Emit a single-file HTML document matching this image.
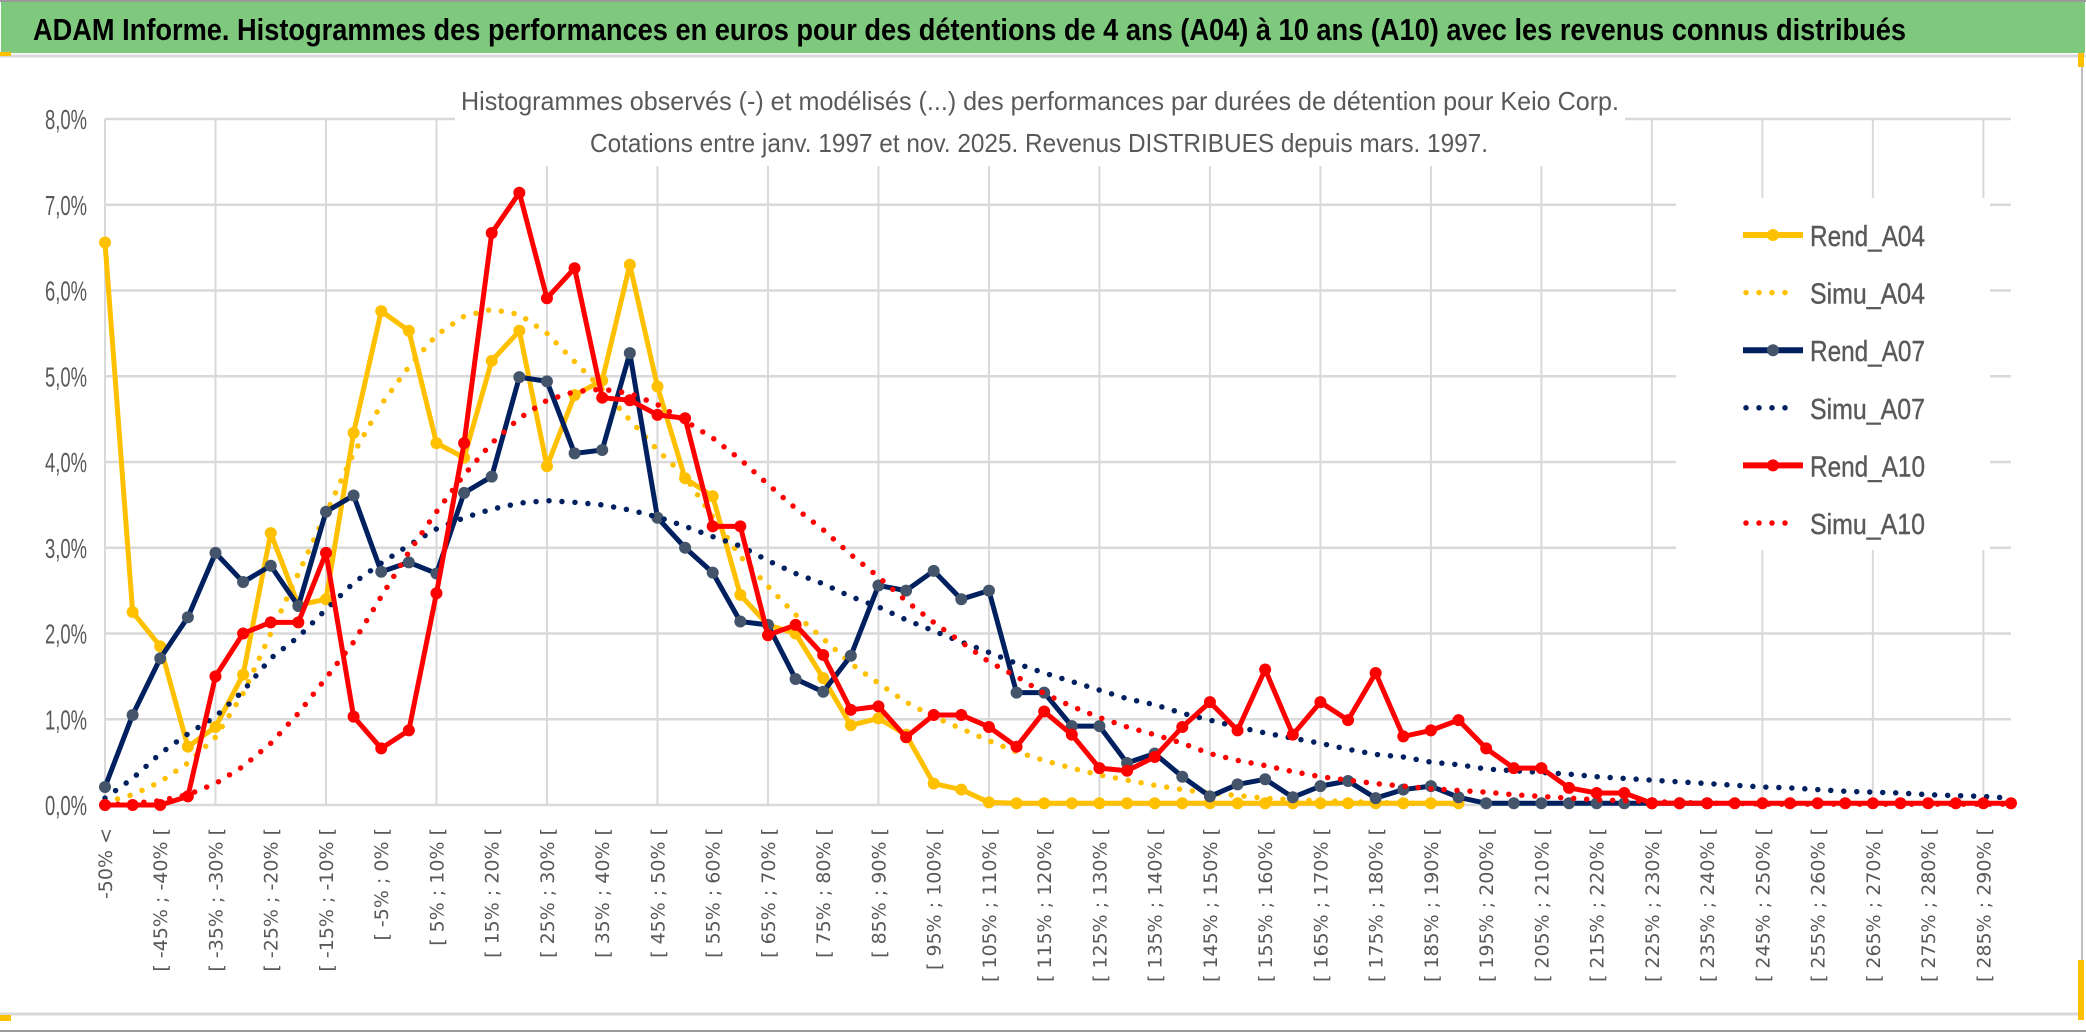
<!DOCTYPE html>
<html><head><meta charset="utf-8"><style>
html,body{margin:0;padding:0;background:#fff;}
svg{display:block;}
</style></head><body>
<svg id="chart" width="2086" height="1033" viewBox="0 0 2086 1033" xmlns="http://www.w3.org/2000/svg">
<rect x="0" y="0" width="2086" height="1033" fill="#ffffff"/>
<rect x="1" y="2" width="2084" height="51" fill="#7fc97f"/>
<line x1="0" y1="1" x2="2086" y2="1" stroke="#9a9a9a" stroke-width="2"/>
<line x1="0" y1="56" x2="2086" y2="56" stroke="#d9d9d9" stroke-width="3"/>
<line x1="2082" y1="56" x2="2082" y2="1020" stroke="#bfbfbf" stroke-width="2"/>
<line x1="0" y1="1014" x2="2080" y2="1014" stroke="#d9d9d9" stroke-width="3"/>
<line x1="0" y1="1031" x2="2086" y2="1031" stroke="#9a9a9a" stroke-width="2"/>
<rect x="0" y="52" width="11" height="4" fill="#ffc000"/>
<rect x="0" y="1015" width="11" height="6" fill="#ffc000"/>
<rect x="2078" y="53" width="6" height="14" fill="#ffc000"/>
<rect x="2078" y="960" width="6" height="60" fill="#ffc000"/>
<text x="33" y="40" font-family="Liberation Sans, sans-serif" font-weight="bold" font-size="31" fill="#000" textLength="1873" lengthAdjust="spacingAndGlyphs">ADAM Informe. Histogrammes des performances en euros pour des détentions de 4 ans (A04) à 10 ans (A10) avec les revenus connus distribués</text>
<g id="grid"></g>
<rect x="455" y="72" width="1170" height="94" fill="#fff"/>
<text x="461" y="110" font-family="Liberation Sans, sans-serif" font-size="26" fill="#595959" textLength="1158" lengthAdjust="spacingAndGlyphs">Histogrammes observés (-) et modélisés (...) des performances par durées de détention pour Keio Corp.</text>
<text x="590" y="152" font-family="Liberation Sans, sans-serif" font-size="26" fill="#595959" textLength="898" lengthAdjust="spacingAndGlyphs">Cotations entre janv. 1997 et nov. 2025. Revenus DISTRIBUES depuis mars. 1997.</text>
<g id="yaxis"></g>
<g id="xaxis"></g>
<g id="series"></g>
<g id="legend"></g>
</svg>
<script>
var categoryLabels = ["-50% <","[ -45% ; -40% [","[ -35% ; -30% [","[ -25% ; -20% [","[ -15% ; -10% [","[ -5% ; 0% [","[ 5% ; 10% [","[ 15% ; 20% [","[ 25% ; 30% [","[ 35% ; 40% [","[ 45% ; 50% [","[ 55% ; 60% [","[ 65% ; 70% [","[ 75% ; 80% [","[ 85% ; 90% [","[ 95% ; 100% [","[ 105% ; 110% [","[ 115% ; 120% [","[ 125% ; 130% [","[ 135% ; 140% [","[ 145% ; 150% [","[ 155% ; 160% [","[ 165% ; 170% [","[ 175% ; 180% [","[ 185% ; 190% [","[ 195% ; 200% [","[ 205% ; 210% [","[ 215% ; 220% [","[ 225% ; 230% [","[ 235% ; 240% [","[ 245% ; 250% [","[ 255% ; 260% [","[ 265% ; 270% [","[ 275% ; 280% [","[ 285% ; 290% ["];
var yTickValues = [0,1,2,3,4,5,6,7,8];
var yTickLabels = ["0,0%","1,0%","2,0%","3,0%","4,0%","5,0%","6,0%","7,0%","8,0%"];
var categoryCount = 70;
var rendA04 = [6.56,2.25,1.85,0.68,0.91,1.52,3.17,2.33,2.4,4.34,5.76,5.53,4.22,4.05,5.18,5.53,3.95,4.78,4.95,6.3,4.88,3.81,3.6,2.45,2.1,2.0,1.48,0.93,1.01,0.82,0.25,0.18,0.03,0.02,0.02,0.02,0.02,0.02,0.02,0.02,0.02,0.02,0.02,0.02,0.02,0.02,0.02,0.02,0.02,0.02];
var simuA04 = [0.03,0.12,0.27,0.49,0.79,1.3,2.0,2.7,3.4,4.1,4.67,5.11,5.48,5.7,5.78,5.72,5.5,5.17,4.85,4.49,4.14,3.83,3.36,2.9,2.55,2.22,1.94,1.65,1.42,1.2,1.03,0.89,0.75,0.62,0.52,0.43,0.35,0.29,0.23,0.18,0.14,0.11,0.08,0.06,0.05,0.04,0.03,0.02,0.02,0.01];
var rendA07 = [0.21,1.05,1.71,2.19,2.94,2.6,2.79,2.32,3.42,3.61,2.72,2.83,2.7,3.64,3.83,4.99,4.94,4.1,4.14,5.27,3.35,3.0,2.71,2.14,2.1,1.47,1.32,1.74,2.56,2.5,2.73,2.4,2.5,1.31,1.31,0.92,0.92,0.49,0.6,0.33,0.1,0.24,0.3,0.09,0.22,0.28,0.08,0.18,0.22,0.09,0.02,0.02,0.02,0.02,0.02,0.02,0.02,0.02,0.02];
var simuA07 = [0.08,0.31,0.6,0.83,1.03,1.33,1.71,1.96,2.28,2.59,2.82,3.03,3.22,3.35,3.45,3.52,3.55,3.53,3.5,3.44,3.36,3.25,3.13,3.02,2.85,2.7,2.58,2.43,2.31,2.16,2.03,1.9,1.78,1.65,1.54,1.44,1.34,1.24,1.17,1.07,0.99,0.91,0.84,0.78,0.72,0.65,0.59,0.56,0.5,0.47,0.42,0.4,0.38,0.36,0.33,0.31,0.29,0.27,0.25,0.23,0.21,0.2,0.18,0.16,0.15,0.14,0.12,0.11,0.1,0.08];
var rendA10 = [0,0,0,0.1,1.5,2.0,2.13,2.13,2.94,1.03,0.66,0.87,2.47,4.22,6.67,7.14,5.91,6.26,4.75,4.72,4.55,4.51,3.25,3.25,1.98,2.1,1.75,1.11,1.15,0.79,1.05,1.05,0.91,0.68,1.09,0.82,0.43,0.4,0.56,0.91,1.2,0.87,1.58,0.82,1.2,0.99,1.54,0.8,0.87,0.99,0.66,0.43,0.43,0.2,0.14,0.14,0.02,0.02,0.02,0.02,0.02,0.02,0.02,0.02,0.02,0.02,0.02,0.02,0.02,0.02];
var simuA10 = [0,0.02,0.05,0.12,0.25,0.45,0.72,1.07,1.48,1.9,2.43,2.95,3.42,3.85,4.22,4.51,4.72,4.82,4.85,4.8,4.67,4.48,4.28,4.03,3.74,3.46,3.21,2.92,2.66,2.38,2.13,1.9,1.67,1.5,1.3,1.15,1.02,0.91,0.82,0.72,0.6,0.52,0.46,0.39,0.33,0.29,0.25,0.22,0.19,0.17,0.15,0.12,0.1,0.08,0.06,0.05,0.04,0.03,0.02,0.02,0.01,0.01,0.01,0.01,0.01,0.01,0.01,0.01,0.01,0.01];
var seriesNames = ["Rend_A04","Simu_A04","Rend_A07","Simu_A07","Rend_A10","Simu_A10"];

var NS = "http://www.w3.org/2000/svg";
var plotLeft = 105, plotRight = 2011, plotTop = 119, plotBottom = 805, yMax = 8;
function xScale(i){ return plotLeft + i * (plotRight - plotLeft) / (categoryCount - 1); }
function yScale(v){ return plotBottom - v * (plotBottom - plotTop) / yMax; }
function mk(tag, attrs, parent){
  var el = document.createElementNS(NS, tag);
  for (var k in attrs) el.setAttribute(k, attrs[k]);
  parent.appendChild(el);
  return el;
}
var grid = document.getElementById('grid');
yTickValues.forEach(function(v){
  var l = mk('line', {x1: plotLeft, x2: plotRight, y1: yScale(v), y2: yScale(v), stroke: '#d9d9d9', 'stroke-width': 2.5}, grid);
  
  
});
for (var gi = 0; gi < categoryCount; gi += 4) {
  var vl = mk('line', {x1: xScale(gi), x2: xScale(gi), y1: plotTop, y2: plotBottom, stroke: '#d9d9d9', 'stroke-width': 2}, grid);
  
  
}
var yaxis = document.getElementById('yaxis');
yTickValues.forEach(function(v, k){
  var t = mk('text', {x: 87, y: yScale(v) + 10, 'text-anchor': 'end', 'font-family': 'Liberation Sans, sans-serif', 'font-size': 28, fill: '#595959', textLength: 42, lengthAdjust: 'spacingAndGlyphs'}, yaxis);
  t.textContent = yTickLabels[k];
  
  
});
var xaxis = document.getElementById('xaxis');
categoryLabels.forEach(function(lab, k){
  var x = xScale(k * 2) + 7, y = 828;
  var t = mk('text', {x: x, y: y, transform: 'rotate(-90 ' + x + ' ' + y + ')', 'text-anchor': 'end', 'font-family': 'DejaVu Sans, sans-serif', 'font-size': 19, fill: '#595959'}, xaxis);
  t.textContent = lab;
  
  
});
var series = document.getElementById('series');
function pts(arr){ return arr.map(function(v, i){ return xScale(i) + ',' + yScale(v); }).join(' '); }
function solid(arr, color, markerColor, name){
  var g = mk('g', {}, series);
  
  
  var p = mk('polyline', {points: pts(arr), fill: 'none', stroke: color, 'stroke-width': 5, 'stroke-linejoin': 'round'}, g);
  
  
  arr.forEach(function(v, i){
    var c = mk('circle', {cx: xScale(i), cy: yScale(v), r: 6, fill: markerColor}, g);
    
    
  });
}
function dotted(arr, color, name){
  var p = mk('polyline', {points: pts(arr), fill: 'none', stroke: color, 'stroke-width': 5.5, 'stroke-linecap': 'round', 'stroke-dasharray': '0 13'}, series);
  
  
}
solid(rendA04, '#ffc000', '#ffc000', 'rend-a04');
dotted(simuA04, '#ffc000', 'simu-a04');
solid(rendA07, '#002060', '#44546a', 'rend-a07');
dotted(simuA07, '#002060', 'simu-a07');
solid(rendA10, '#ff0000', '#ff0000', 'rend-a10');
dotted(simuA10, '#ff0000', 'simu-a10');

var legend = document.getElementById('legend');
var lb = mk('rect', {x: 1676, y: 198, width: 314, height: 352, fill: '#fff'}, legend);


var legendColors = ['#ffc000','#ffc000','#002060','#002060','#ff0000','#ff0000'];
var legendMarkers = ['#ffc000','#ffc000','#44546a','#44546a','#ff0000','#ff0000'];
seriesNames.forEach(function(nm, k){
  var cy = 235 + k * 57.6;
  var g = mk('g', {}, legend);
  
  
  if (k % 2 === 0) {
    var l = mk('line', {x1: 1743, x2: 1803, y1: cy, y2: cy, stroke: legendColors[k], 'stroke-width': 6}, g);
    
    
    var c = mk('circle', {cx: 1773, cy: cy, r: 6, fill: legendMarkers[k]}, g);
    
    
  } else {
    var d = mk('line', {x1: 1746, x2: 1792, y1: cy, y2: cy, stroke: legendColors[k], 'stroke-width': 5.5, 'stroke-linecap': 'round', 'stroke-dasharray': '0 13'}, g);
    
    
  }
  var t = mk('text', {x: 1810, y: cy + 11, 'font-family': 'Liberation Sans, sans-serif', 'font-size': 29, fill: '#595959', 'stroke': '#595959', 'stroke-width': 0.4, textLength: 115, lengthAdjust: 'spacingAndGlyphs'}, g);
  t.textContent = nm;
  
  
});
</script>
</body></html>
